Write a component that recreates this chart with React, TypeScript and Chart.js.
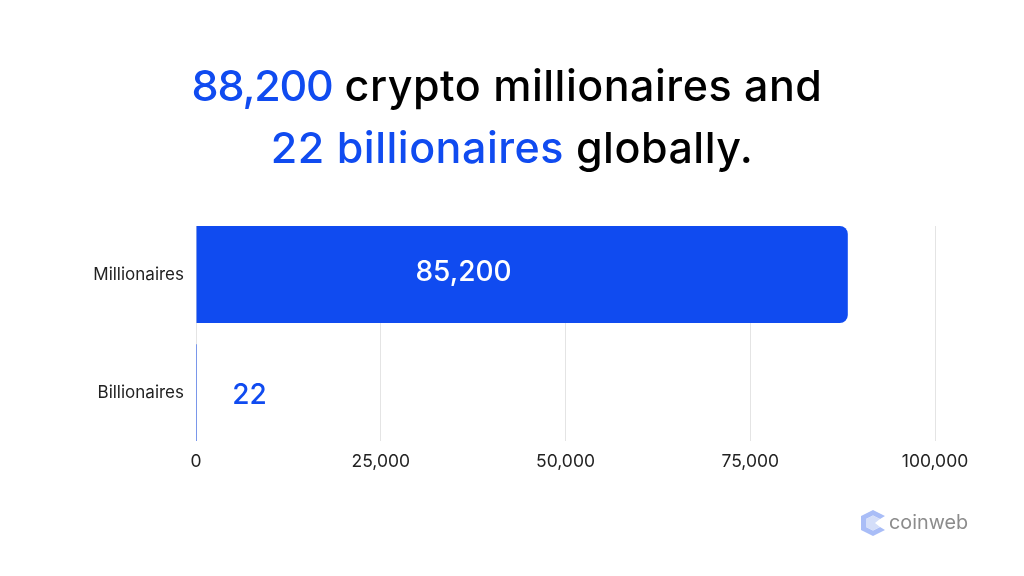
import { useEffect, useRef } from 'react'
import { Chart, registerables, type ChartConfiguration, type Plugin } from 'chart.js'

Chart.register(...registerables)

const categories = ['Millionaires', 'Billionaires']
const values = [88200, 22]
const valueLabels = ['85,200', '22']
const xTicks = [0, 25000, 50000, 75000, 100000]

const BLUE = '#104bf0'
const FONT = 'Inter, "Noto Sans", sans-serif'

// the value labels sit well left of the bar ends in the original
const valueLabelsPlugin: Plugin<'bar'> = {
  id: 'valueLabels',
  afterDatasetsDraw(chart) {
    const { ctx } = chart
    const bars = chart.getDatasetMeta(0).data
    const base = chart.scales.x.getPixelForValue(0)
    const offsets = [267.5, 53.5]
    const colors = ['#ffffff', BLUE]
    ctx.save()
    ctx.font = `500 28px ${FONT}`
    ctx.textAlign = 'center'
    ctx.textBaseline = 'middle'
    bars.forEach((bar, i) => {
      ctx.fillStyle = colors[i]
      ctx.fillText(valueLabels[i], base + offsets[i], bar.y - 2 + i * 5)
    })
    ctx.restore()
  },
}

export default function App() {
  const canvasRef = useRef<HTMLCanvasElement | null>(null)
  const chartRef = useRef<Chart<'bar'> | null>(null)

  useEffect(() => {
    const canvas = canvasRef.current
    if (!canvas) {
      return
    }

    const config: ChartConfiguration<'bar'> = {
      type: 'bar',
      data: {
        datasets: [
          {
            data: values.map((v, i) => ({ x: v, y: i })),
            backgroundColor: BLUE,
            borderRadius: { topRight: 8, bottomRight: 8, topLeft: 0, bottomLeft: 0 },
            borderSkipped: false,
            minBarLength: 1,
            categoryPercentage: 1,
            barPercentage: 0.822,
          },
        ],
      },
      options: {
        indexAxis: 'y',
        animation: false,
        responsive: false,
        layout: { padding: { top: 226, right: 89, bottom: 0, left: 0 } },
        plugins: {
          legend: { display: false },
          tooltip: { enabled: false },
          title: { display: false },
        },
        scales: {
          x: {
            type: 'linear',
            min: 0,
            max: 100000,
            afterFit: (scale) => {
              scale.height = 135
            },
            afterBuildTicks: (scale) => {
              scale.ticks = xTicks.map((value) => ({ value }))
            },
            border: { display: false },
            grid: { color: '#e4e4e4', lineWidth: 1, drawTicks: false },
            ticks: {
              color: '#222222',
              padding: 10,
              maxRotation: 0,
              font: { family: FONT, size: 17.5 },
              callback: (v) => Number(v).toLocaleString('en-US'),
            },
          },
          y: {
            type: 'linear',
            offset: false,
            reverse: true,
            min: -0.411,
            max: 1.411,
            afterFit: (scale) => {
              scale.width = 196
            },
            afterBuildTicks: (scale) => {
              scale.ticks = categories.map((_, value) => ({ value }))
            },
            border: { display: false },
            grid: { display: false, drawTicks: false },
            ticks: {
              color: '#222222',
              padding: 12,
              font: { family: FONT, size: 17 },
              callback: (v) => categories[Number(v)] ?? '',
            },
          },
        },
      },
      plugins: [valueLabelsPlugin],
    }

    chartRef.current = new Chart(canvas, config)

    return () => {
      chartRef.current?.destroy()
      chartRef.current = null
    }
  }, [])

  return (
    <div style={{ position: 'fixed', inset: 0, width: 1024, height: 576, background: '#fff', overflow: 'hidden' }}>
      <canvas ref={canvasRef} width={1024} height={576} style={{ position: 'absolute', left: 0, top: 0 }} />
      <div
        style={{
          position: 'absolute',
          left: 0,
          top: 54,
          width: 1024,
          textAlign: 'center',
          fontFamily: FONT,
          fontWeight: 500,
          fontSize: 43,
          letterSpacing: 0.5,
          lineHeight: '62px',
          color: '#000',
        }}
      >
        <div style={{ position: 'relative', left: -5 }}>
          <span style={{ color: BLUE, letterSpacing: -1.2 }}>88,200</span> crypto millionaires and
        </div>
        <div>
          <span style={{ color: BLUE }}>22 billionaires</span> globally.
        </div>
      </div>
      <svg width="26" height="28" viewBox="0 0 26 28" style={{ position: 'absolute', left: 860, top: 509 }}>
        <path d="M13 1 L25 7 L20 10 L13 6.5 L6 10 V18 L13 21.5 L20 18 L25 21 L13 27 L1 21 V7 Z" fill="#a9bdf7" />
        <path d="M13 6.5 L20 10 L15 14 L20 18 L13 21.5 L6 18 V10 Z" fill="#d4def9" />
      </svg>
      <div
        style={{
          position: 'absolute',
          left: 889,
          top: 509,
          fontFamily: FONT,
          fontSize: 19.8,
          lineHeight: '26px',
          color: '#8c8c8c',
        }}
      >
        coinweb
      </div>
    </div>
  )
}
